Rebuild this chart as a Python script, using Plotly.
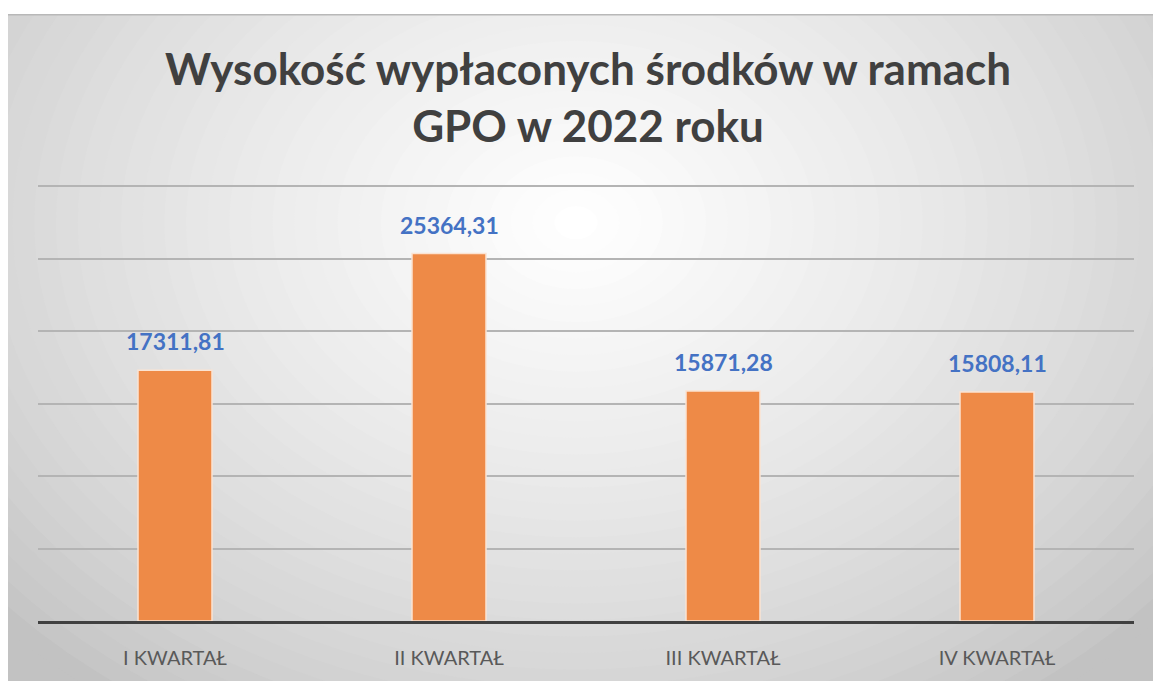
import plotly.graph_objects as go

# Data
quarters = ["I KWARTAŁ", "II KWARTAŁ", "III KWARTAŁ", "IV KWARTAŁ"]
amounts = [17311.81, 25364.31, 15871.28, 15808.11]

W, H = 1153, 681
ML, MR, MT, MB = 38, 19, 182, 57


def px_to_paper(px, py):
    return (px - ML) / (W - ML - MR), (H - MB - py) / (H - MT - MB)


fig = go.Figure()
fig.add_trace(
    go.Bar(
        x=quarters,
        y=amounts,
        width=0.27,
        marker=dict(color="#EE8A47", line=dict(color="#FBE3D2", width=1.5)),
        hoverinfo="x+y",
    )
)

# value labels above the bars
for q, v in zip(quarters, amounts):
    fig.add_annotation(
        x=q, y=v,
        text="<b>" + f"{v:.2f}".replace(".", ",") + "</b>",
        showarrow=False,
        yanchor="bottom",
        yshift=13,
        font=dict(family="Lato", size=23, color="#4472C4"),
    )

# Radial grey background, built from stacked ellipses
shapes = []
steps = 36
cx, cy = 576, 223
for i in range(steps):
    t = i / (steps - 1)
    k = 1 - i / steps
    rx, ry = 780 * k, 600 * k
    g = int(194 + (255 - 194) * (t ** 0.75))
    x0, y0 = px_to_paper(cx - rx, cy + ry)
    x1, y1 = px_to_paper(cx + rx, cy - ry)
    shapes.append(
        dict(
            type="circle", xref="paper", yref="paper",
            x0=x0, y0=y0, x1=x1, y1=y1,
            fillcolor=f"rgb({g},{g},{g})", line_width=0, layer="below",
        )
    )
# white page strips above and left of the chart frame
for (ax0, ay0, ax1, ay1) in [(-5, -5, W + 5, 13), (-5, -5, 8, H + 5)]:
    x0, y0 = px_to_paper(ax0, ay1)
    x1, y1 = px_to_paper(ax1, ay0)
    shapes.append(
        dict(type="rect", xref="paper", yref="paper", x0=x0, y0=y0, x1=x1, y1=y1,
             fillcolor="white", line_width=0, layer="below")
    )
x0, y0 = px_to_paper(8, 13.5)
x1, y1 = px_to_paper(W + 5, 13.5)
shapes.append(
    dict(type="line", xref="paper", yref="paper", x0=x0, y0=y0, x1=x1, y1=y1,
         line=dict(color="#b8b8b8", width=1.5), layer="below")
)

fig.update_layout(
    width=W,
    height=H,
    margin=dict(l=ML, r=MR, t=MT, b=MB),
    paper_bgcolor="#c2c2c2",
    plot_bgcolor="rgba(0,0,0,0)",
    showlegend=False,
    shapes=shapes,
    title=dict(
        text="<b>Wysokość wypłaconych środków w ramach<br>GPO w 2022 roku</b>",
        xref="container",
        x=0.51,
        xanchor="center",
        y=0.8756,
        yanchor="middle",
        font=dict(family="Lato", size=44, color="#404040"),
    ),
    xaxis=dict(
        showline=True,
        linecolor="#404040",
        linewidth=2.5,
        showgrid=False,
        ticks="",
        ticklabelstandoff=17,
        tickfont=dict(family="Lato", size=20, color="#595959"),
    ),
    yaxis=dict(
        range=[0, 30300],
        dtick=5000,
        showticklabels=False,
        gridcolor="#b4b4b4",
        gridwidth=1.5,
        zeroline=False,
    ),
)

fig.write_html(
    "out.html",
    config={"displayModeBar": False},
    post_script="document.body.style.margin='0';document.body.style.overflow='hidden';",
)
